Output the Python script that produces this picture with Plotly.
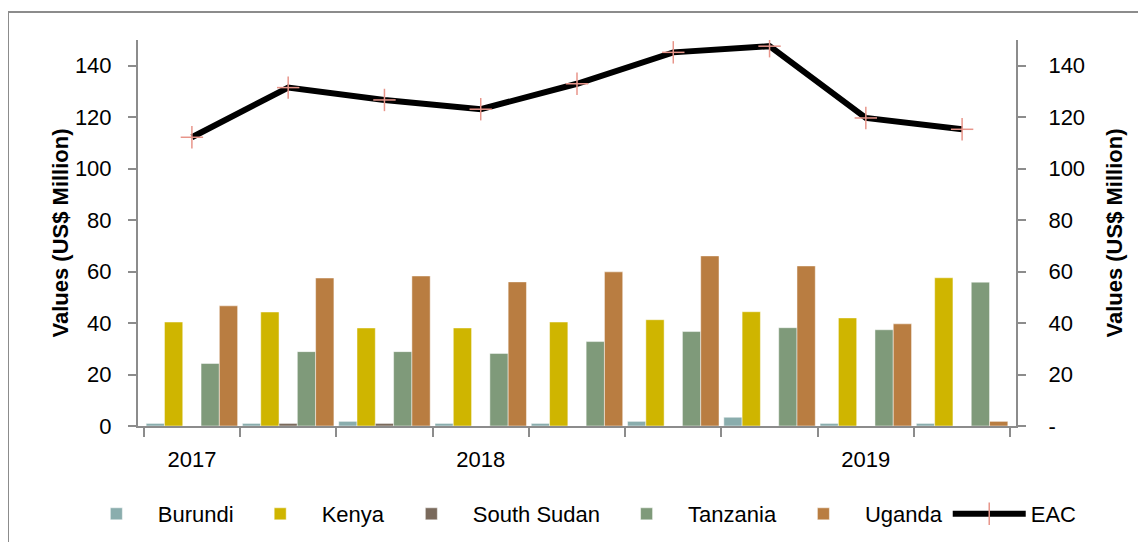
import plotly.graph_objects as go

periods = ["P1", "P2", "P3", "P4", "P5", "P6", "P7", "P8", "P9"]
period_labels = ["2017", "", "", "2018", "", "", "", "2019", ""]

burundi = [1.0, 1.0, 1.8, 1.0, 1.0, 1.8, 3.4, 1.0, 1.0]
kenya = [40.4, 44.3, 38.1, 38.1, 40.4, 41.3, 44.4, 42.0, 57.6]
south_sudan = [0.0, 1.0, 1.0, 0.0, 0.0, 0.0, 0.0, 0.0, 0.0]
tanzania = [24.3, 28.9, 28.9, 28.2, 32.8, 36.7, 38.2, 37.4, 55.9]
uganda = [46.7, 57.5, 58.3, 56.0, 59.9, 66.1, 62.2, 39.7, 1.8]
eac = [112.2, 131.5, 126.7, 123.1, 133.0, 145.2, 147.6, 119.7, 115.3]

yticks = [0, 20, 40, 60, 80, 100, 120, 140]
left_ticktext = ["0", "20", "40", "60", "80", "100", "120", "140"]
right_ticktext = ["-", "20", "40", "60", "80", "100", "120", "140"]

series = [
    ("Burundi", burundi, "#8aadad"),
    ("Kenya", kenya, "#cfb500"),
    ("South Sudan", south_sudan, "#7a6a5c"),
    ("Tanzania", tanzania, "#7f9a7a"),
    ("Uganda", uganda, "#b97d41"),
]

FONT = "Liberation Sans, Arial, sans-serif"
FS = 22
fig = go.Figure()
for name, vals, col in series:
    fig.add_trace(go.Bar(
        x=periods, y=vals, name=name,
        marker=dict(color=col, line=dict(color="rgba(255,255,255,0.6)", width=0.8)),
    ))

fig.add_trace(go.Scatter(
    x=periods, y=eac, name="EAC", mode="lines+markers", yaxis="y2",
    line=dict(color="black", width=6),
    marker=dict(symbol="line-ns", size=16, color="#e8958a",
                line=dict(color="#e8958a", width=1.5)),
))
fig.add_trace(go.Scatter(
    x=periods, y=eac, showlegend=False, mode="markers", yaxis="y2",
    marker=dict(symbol="line-ew", size=16, color="#e8958a",
                line=dict(color="#e8958a", width=1.5)),
    hoverinfo="skip",
))

axis_col = "#8c8c8c"
fig.update_layout(
    width=1146, height=542,
    paper_bgcolor="white", plot_bgcolor="white",
    margin=dict(l=130, r=138, t=32, b=124, autoexpand=False),
    barmode="group", bargap=0.05, bargroupgap=0.0,
    font=dict(family=FONT, size=FS, color="black"),
    xaxis=dict(
        type="category", categoryorder="array", categoryarray=periods,
        tickmode="array", tickvals=periods, ticktext=period_labels,
        tickson="boundaries", ticks="outside", ticklen=9, tickwidth=2, tickcolor=axis_col,
        showline=True, linecolor=axis_col, linewidth=2,
        showgrid=False, zeroline=False, automargin=False,
        tickfont=dict(size=FS, family=FONT), ticklabelstandoff=13,
    ),
    yaxis=dict(
        range=[0, 150], tickmode="array", tickvals=yticks, ticktext=left_ticktext,
        ticks="outside", ticklen=8, tickwidth=2, tickcolor=axis_col,
        showline=True, linecolor=axis_col, linewidth=2,
        showgrid=False, zeroline=False, automargin=False,
        tickfont=dict(size=FS, family=FONT), ticklabelstandoff=12,
        title=dict(text="<b>Values (US$ Million)</b>", font=dict(size=FS, family=FONT), standoff=0),
    ),
    yaxis2=dict(
        range=[0, 150], overlaying="y", side="right",
        tickmode="array", tickvals=yticks, ticktext=right_ticktext,
        ticks="outside", ticklen=8, tickwidth=2, tickcolor=axis_col,
        showline=True, linecolor=axis_col, linewidth=2,
        showgrid=False, zeroline=False, automargin=False,
        tickfont=dict(size=FS, family=FONT), ticklabelstandoff=18,
        title=dict(text="<b>Values (US$ Million)</b>", font=dict(size=FS, family=FONT), standoff=22),
    ),
    legend=dict(
        orientation="h", x=1.075, xanchor="right", y=-0.228, yanchor="middle",
        font=dict(size=FS, family=FONT), itemwidth=73, traceorder="normal",
        bgcolor="rgba(0,0,0,0)",
    ),
    showlegend=True,
)

# outer chart frame (left and top edges visible)
fig.add_shape(type="rect", xref="paper", yref="paper",
              x0=(0 - 130) / 878, x1=1.3, y0=-0.5, y1=(418 - 4) / 386,
              line=dict(color="#8c8c8c", width=2), layer="below")

fig.write_html("out.html")
